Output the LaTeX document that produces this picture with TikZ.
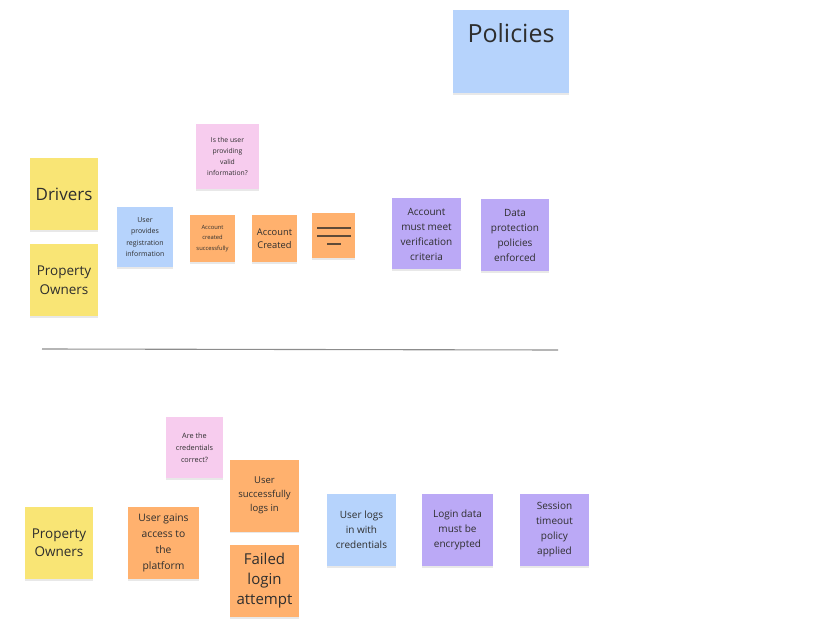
\documentclass[tikz,border=0pt]{standalone}
\usepackage{fontspec}
\setmainfont{Open Sans}
\usetikzlibrary{shadows}
\definecolor{stYellow}{HTML}{F9E575}
\definecolor{stPink}{HTML}{F7CCEE}
\definecolor{stOrange}{HTML}{FFB16E}
\definecolor{stBlue}{HTML}{B6D3FC}
\definecolor{stPurple}{HTML}{BBA9F6}
\definecolor{stText}{HTML}{2E2E2E}
\definecolor{iconLine}{HTML}{5E4A38}
\tikzset{
  sticky/.style={draw=none, inner sep=0pt, align=center, text=stText,
    drop shadow={opacity=0.18, shadow xshift=0pt, shadow yshift=-1.6pt}},
}
\begin{document}
\begin{tikzpicture}[x=1pt,y=-1pt]
\useasboundingbox (0,0) rectangle (830,628);
% Policies
\node[sticky, fill=stBlue, minimum width=116pt, minimum height=83pt] (policies) at (511,51.5) {};
\node[text=stText, font={\fontsize{25}{30}\selectfont}, inner sep=0pt] (policiesText) at (511,33) {Policies};
% top lane
\node[sticky, fill=stYellow, minimum width=68pt, minimum height=72pt, font={\fontsize{17}{20}\selectfont}] (drivers) at (64,194) {Drivers};
\node[sticky, fill=stYellow, minimum width=68pt, minimum height=72pt, font={\fontsize{13.5}{19}\selectfont}] (po1) at (64,280.5) {Property\\Owners};
\node[sticky, fill=stBlue, minimum width=56pt, minimum height=60pt, font={\fontsize{7}{11.5}\selectfont}] (upri) at (145,237) {User\\provides\\registration\\information};
\node[sticky, fill=stPink, minimum width=63pt, minimum height=65pt, font={\fontsize{6.8}{11}\selectfont}] (isuser) at (227.5,156.5) {Is the user\\providing\\valid\\information?};
\node[sticky, fill=stOrange, minimum width=45pt, minimum height=47pt, font={\fontsize{5.8}{10.5}\selectfont}] (acs) at (212.5,238.5) {Account\\created\\successfully};
\node[sticky, fill=stOrange, minimum width=45pt, minimum height=47pt, font={\fontsize{9.3}{13}\selectfont}] (ac) at (274.5,238.5) {Account\\Created};
\node[sticky, fill=stOrange, minimum width=43pt, minimum height=45pt] (icon) at (333.5,235.5) {};
\coordinate (ia1) at (317,228); \coordinate (ib1) at (351,228);
\coordinate (ia2) at (317,236); \coordinate (ib2) at (351,236);
\coordinate (ia3) at (327,244); \coordinate (ib3) at (341,244);
\draw[iconLine, line width=2pt] (ia1) -- (ib1) (ia2) -- (ib2) (ia3) -- (ib3);
\node[sticky, fill=stPurple, minimum width=69pt, minimum height=71pt, font={\fontsize{10}{15}\selectfont}] (amm) at (426.5,234) {Account\\must meet\\verification\\criteria};
\node[sticky, fill=stPurple, minimum width=68pt, minimum height=72pt, font={\fontsize{10}{15}\selectfont}] (dpp) at (515,235) {Data\\protection\\policies\\enforced};
% divider
\coordinate (d1) at (42,349);
\coordinate (d2) at (558,350);
\draw[gray!80!black, line width=1.1pt, opacity=0.75] (d1) -- (d2);
% bottom lane
\node[sticky, fill=stPink, minimum width=57pt, minimum height=61pt, font={\fontsize{7.3}{12}\selectfont}] (acc) at (194.5,447.5) {Are the\\credentials\\correct?};
\node[sticky, fill=stOrange, minimum width=69pt, minimum height=72pt, font={\fontsize{9.5}{14}\selectfont}] (usl) at (264.5,495.5) {User\\successfully\\logs in};
\node[sticky, fill=stOrange, minimum width=69pt, minimum height=72pt, font={\fontsize{15}{20}\selectfont}] (fla) at (264.5,581) {Failed\\login\\attempt};
\node[sticky, fill=stYellow, minimum width=68pt, minimum height=72pt, font={\fontsize{13.5}{18}\selectfont}] (po2) at (59,543) {Property\\Owners};
\node[sticky, fill=stOrange, minimum width=71pt, minimum height=72pt, font={\fontsize{10.3}{16}\selectfont}] (uga) at (163.5,543) {User gains\\access to\\the\\platform};
\node[sticky, fill=stBlue, minimum width=69pt, minimum height=72pt, font={\fontsize{10}{15}\selectfont}] (ulc) at (361.5,530) {User logs\\in with\\credentials};
\node[sticky, fill=stPurple, minimum width=71pt, minimum height=72pt, font={\fontsize{10}{15}\selectfont}] (lde) at (457.5,530) {Login data\\must be\\encrypted};
\node[sticky, fill=stPurple, minimum width=69pt, minimum height=72pt, font={\fontsize{10}{15}\selectfont}] (sta) at (554.5,530) {Session\\timeout\\policy\\applied};
\end{tikzpicture}
\end{document}
